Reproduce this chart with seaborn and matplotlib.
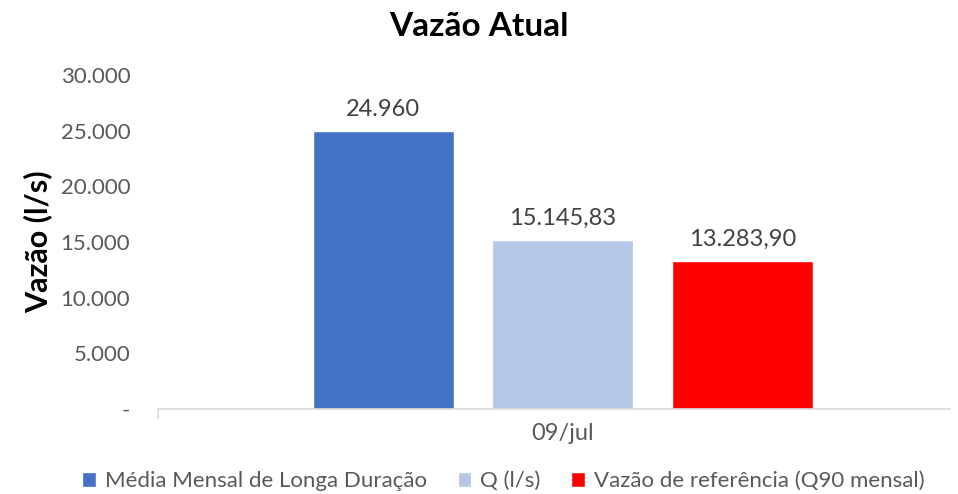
import matplotlib
matplotlib.use("Agg")
import matplotlib.pyplot as plt
import matplotlib.ticker as mticker
import pandas as pd
import seaborn as sns

categories = ["09/jul"]
series = ["Média Mensal de Longa Duração", "Q (l/s)", "Vazão de referência (Q90 mensal)"]
values = [24960, 15145.83, 13283.90]
colors = ["#4472C4", "#B4C7E7", "#FF0000"]


def br_number(v, decimals=2):
    if float(v).is_integer():
        s = "{:,.0f}".format(v)
    else:
        s = "{:,.{}f}".format(v, decimals)
    return s.replace(",", "X").replace(".", ",").replace("X", ".")


df = pd.DataFrame({"data": categories * len(series), "serie": series, "vazao": values})

sns.set_style("white")
plt.rcParams["font.family"] = ["Lato", "DejaVu Sans"]

fig = plt.figure(figsize=(9.58, 4.94), dpi=100)
ax = fig.add_axes([158 / 958, 85 / 494, 792 / 958, 334 / 494])

sns.barplot(data=df, x="data", y="vazao", hue="serie", palette=colors,
            saturation=1, width=0.8, gap=0.215, ax=ax, legend=True)

for cont in ax.containers:
    ax.bar_label(cont, labels=[br_number(b.get_height()) for b in cont],
                 padding=8, fontsize=17, color="#404040")

ax.set_ylim(0, 30000)
ax.set_xlim(-0.601, 0.575)
ax.yaxis.set_major_locator(mticker.MultipleLocator(5000))
ax.yaxis.set_major_formatter(mticker.FuncFormatter(
    lambda v, p: "-" if v == 0 else br_number(v)))
ax.tick_params(axis="y", length=0, pad=20, labelsize=16, labelcolor="#595959")
ax.tick_params(axis="x", length=0, pad=10, labelsize=17, labelcolor="#595959")

# small category-boundary tick at the left end of the axis
ax.set_xticks([-0.601], minor=True)
ax.tick_params(axis="x", which="minor", bottom=True, length=7, color="#D9D9D9", width=1.2)

for s in ["top", "right", "left"]:
    ax.spines[s].set_visible(False)
ax.spines["bottom"].set_color("#D9D9D9")
ax.spines["bottom"].set_linewidth(1.2)

ax.set_xlabel("")
ax.set_ylabel("Vazão (l/s)", fontsize=22, fontweight="bold", color="black", labelpad=6)
fig.suptitle("Vazão Atual", fontsize=24, fontweight="bold", color="black", y=0.975)

handles, labels = ax.get_legend_handles_labels()
ax.legend(handles, labels, loc="center", bbox_to_anchor=(0.436, -0.216), ncol=3,
          frameon=False, fontsize=16, handlelength=0.6, handleheight=0.7,
          handletextpad=0.4, columnspacing=1.4, labelcolor="#595959")

fig.savefig("out.png", dpi=100)
